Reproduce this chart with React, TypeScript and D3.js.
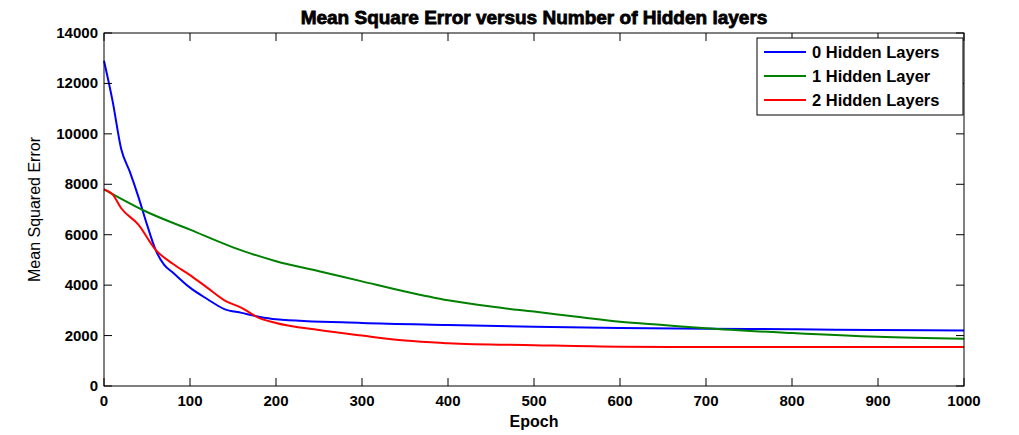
import * as d3 from "d3";

const blueEpochs = [0, 10, 20, 30, 40, 50, 60, 70, 80, 100, 120, 140, 160, 180, 200, 300, 400, 500, 600, 700, 800, 900, 1000];
const blueMse = [12900, 11300, 9400, 8500, 7500, 6400, 5400, 4800, 4500, 3900, 3450, 3050, 2900, 2750, 2650, 2500, 2420, 2350, 2300, 2270, 2250, 2220, 2200];
const greenEpochs = [0, 50, 100, 150, 200, 250, 300, 350, 400, 450, 500, 550, 600, 650, 700, 800, 900, 1000];
const greenMse = [7800, 6900, 6200, 5500, 4950, 4550, 4150, 3750, 3400, 3150, 2950, 2750, 2550, 2420, 2290, 2100, 1950, 1870];
const redEpochs = [0, 10, 20, 40, 60, 80, 100, 120, 140, 160, 180, 200, 250, 300, 350, 400, 500, 600, 700, 1000];
const redMse = [7800, 7600, 7050, 6400, 5400, 4850, 4400, 3900, 3400, 3100, 2700, 2500, 2220, 2000, 1800, 1700, 1620, 1560, 1550, 1550];
const xTicks = d3.range(0, 1001, 100);
const yTicks = d3.range(0, 14001, 2000);
const series = [
  { name: "0 Hidden Layers", color: "#0000ff", xs: blueEpochs, ys: blueMse },
  { name: "1 Hidden Layer", color: "#008000", xs: greenEpochs, ys: greenMse },
  { name: "2 Hidden Layers", color: "#ff0000", xs: redEpochs, ys: redMse },
];

export default function App() {
  const W = 1019, H = 435;
  const L = 104, R = 964, T = 33, B = 386;
  const x = d3.scaleLinear().domain([0, 1000]).range([L, R]);
  const y = d3.scaleLinear().domain([0, 14000]).range([B, T]);
  const line = d3.line<[number, number]>().x((d) => x(d[0])).y((d) => y(d[1])).curve(d3.curveMonotoneX);
  const font = "Arial, 'Liberation Sans', sans-serif";
  return (
    <svg width={W} height={H} style={{ position: "absolute", left: 0, top: 0, background: "#fff" }} fontFamily={font}>
      <rect width={W} height={H} fill="#fff" />
      {series.map((s) => (
        <path key={s.name} d={line(s.xs.map((v, i) => [v, s.ys[i]]) as [number, number][]) || ""} fill="none" stroke={s.color} strokeWidth={2} />
      ))}
      <rect x={L} y={T} width={R - L} height={B - T} fill="none" stroke="#000" />
      {xTicks.map((t) => (
        <g key={t}>
          <line x1={x(t)} x2={x(t)} y1={B} y2={B - 8} stroke="#000" />
          <line x1={x(t)} x2={x(t)} y1={T} y2={T + 8} stroke="#000" />
          <text x={x(t)} y={B + 20} textAnchor="middle" fontSize={15} fontWeight="bold">{t}</text>
        </g>
      ))}
      {yTicks.map((t) => (
        <g key={t}>
          <line x1={L} x2={L + 8} y1={y(t)} y2={y(t)} stroke="#000" />
          <line x1={R} x2={R - 8} y1={y(t)} y2={y(t)} stroke="#000" />
          <text x={L - 6} y={y(t) + 5} textAnchor="end" fontSize={15} fontWeight="bold">{t}</text>
        </g>
      ))}
      <text x={(L + R) / 2} y={24} textAnchor="middle" fontSize={19} fontWeight="bold" stroke="#000" strokeWidth={0.8}>Mean Square Error versus Number of Hidden layers</text>
      <text x={(L + R) / 2} y={427} textAnchor="middle" fontSize={16} fontWeight="bold">Epoch</text>
      <text transform={`translate(40,${(T + B) / 2}) rotate(-90)`} textAnchor="middle" fontSize={16}>Mean Squared Error</text>
      <g>
        <rect x={757} y={38} width={206} height={77} fill="#fff" stroke="#000" />
        {series.map((s, i) => (
          <g key={s.name}>
            <line x1={764} x2={806} y1={52 + i * 24} y2={52 + i * 24} stroke={s.color} strokeWidth={2} />
            <text x={812} y={58 + i * 24} fontSize={16.5} fontWeight="bold">{s.name}</text>
          </g>
        ))}
      </g>
    </svg>
  );
}
